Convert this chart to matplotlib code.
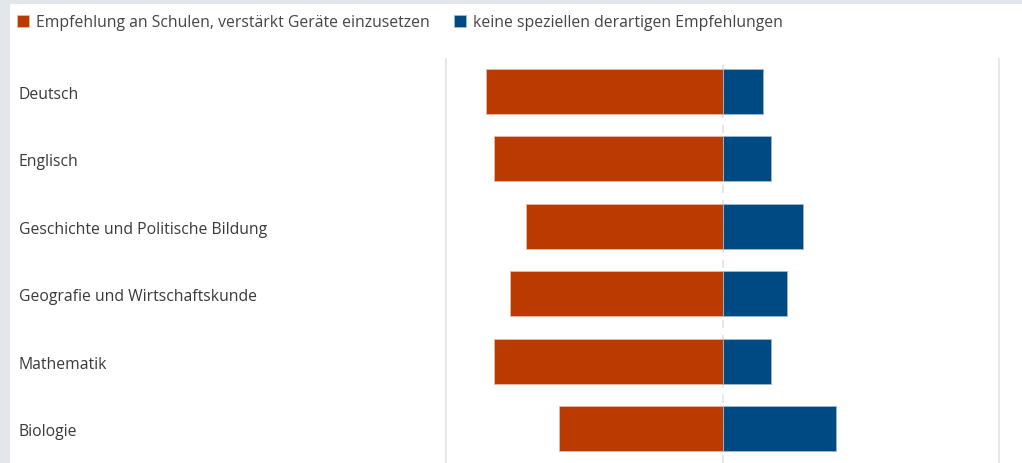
import matplotlib
matplotlib.use("Agg")
import matplotlib.pyplot as plt
import matplotlib.transforms as mtransforms
from matplotlib.patches import Rectangle

categories = [
    "Deutsch",
    "Englisch",
    "Geschichte und Politische Bildung",
    "Geografie und Wirtschaftskunde",
    "Mathematik",
    "Biologie",
]
empfehlung = [85.5, 82.5, 71.0, 76.8, 82.5, 59.2]
keine = [14.5, 17.5, 29.0, 23.2, 17.5, 40.8]
series_labels = [
    "Empfehlung an Schulen, verstärkt Geräte einzusetzen",
    "keine speziellen derartigen Empfehlungen",
]

plt.rcParams['font.family'] = ['Open Sans', 'DejaVu Sans']

W, H = 1022, 464
fig = plt.figure(figsize=(W / 100, H / 100), dpi=100)
fig.patch.set_facecolor('white')

# light grey frame strips (left and top) from the screenshot
fig.patches.append(Rectangle((0, 0), 10 / W, 1, transform=fig.transFigure,
                             facecolor='#e3e7eb', edgecolor='none', zorder=0))
fig.patches.append(Rectangle((0, 1 - 5 / H), 1, 5 / H, transform=fig.transFigure,
                             facecolor='#e3e7eb', edgecolor='none', zorder=0))

ax = fig.add_axes([446.0 / W, 0, (999.3 - 446.0) / W, 1 - 60 / H])
ax.set_facecolor('none')

y = list(range(len(categories)))
neg = [-v for v in empfehlung]
b1 = ax.barh(y, neg, height=0.67, color='#bb3a02', edgecolor='#e8b9a5',
             linewidth=0.6, zorder=3, label=series_labels[0])
b2 = ax.barh(y, keine, height=0.67, color='#004a83', edgecolor='#9fb9d3',
             linewidth=0.6, zorder=3, label=series_labels[1])

ax.set_xlim(-100, 100)
ax.set_ylim(5.51, -0.48)

for x in (-100, 100):
    ax.axvline(x, color='#e3e3e3', linewidth=1.2, zorder=1, clip_on=False)
ax.axvline(0, color='#e3e3e3', linewidth=1.2, linestyle=(0, (5, 4)), zorder=1)

for s in ax.spines.values():
    s.set_visible(False)
ax.set_xticks([])
ax.set_yticks([])

trans = mtransforms.blended_transform_factory(fig.transFigure, ax.transData)
trans = trans + mtransforms.ScaledTranslation(0, -2.5 / 100, fig.dpi_scale_trans)
for i, cat in enumerate(categories):
    ax.text(19 / W, i, cat, transform=trans, ha='left', va='center',
            fontsize=11.3, color='#3a3a3a', clip_on=False)

fig.legend(handles=[b1, b2], labels=series_labels, loc='upper left',
           bbox_to_anchor=(11 / W, 1 - 9 / H), ncol=2, frameon=False,
           fontsize=11.3, labelcolor='#444444', handlelength=0.75,
           handleheight=0.75, handletextpad=0.45, columnspacing=1.55,
           borderaxespad=0)

fig.savefig("out.png", dpi=100)
